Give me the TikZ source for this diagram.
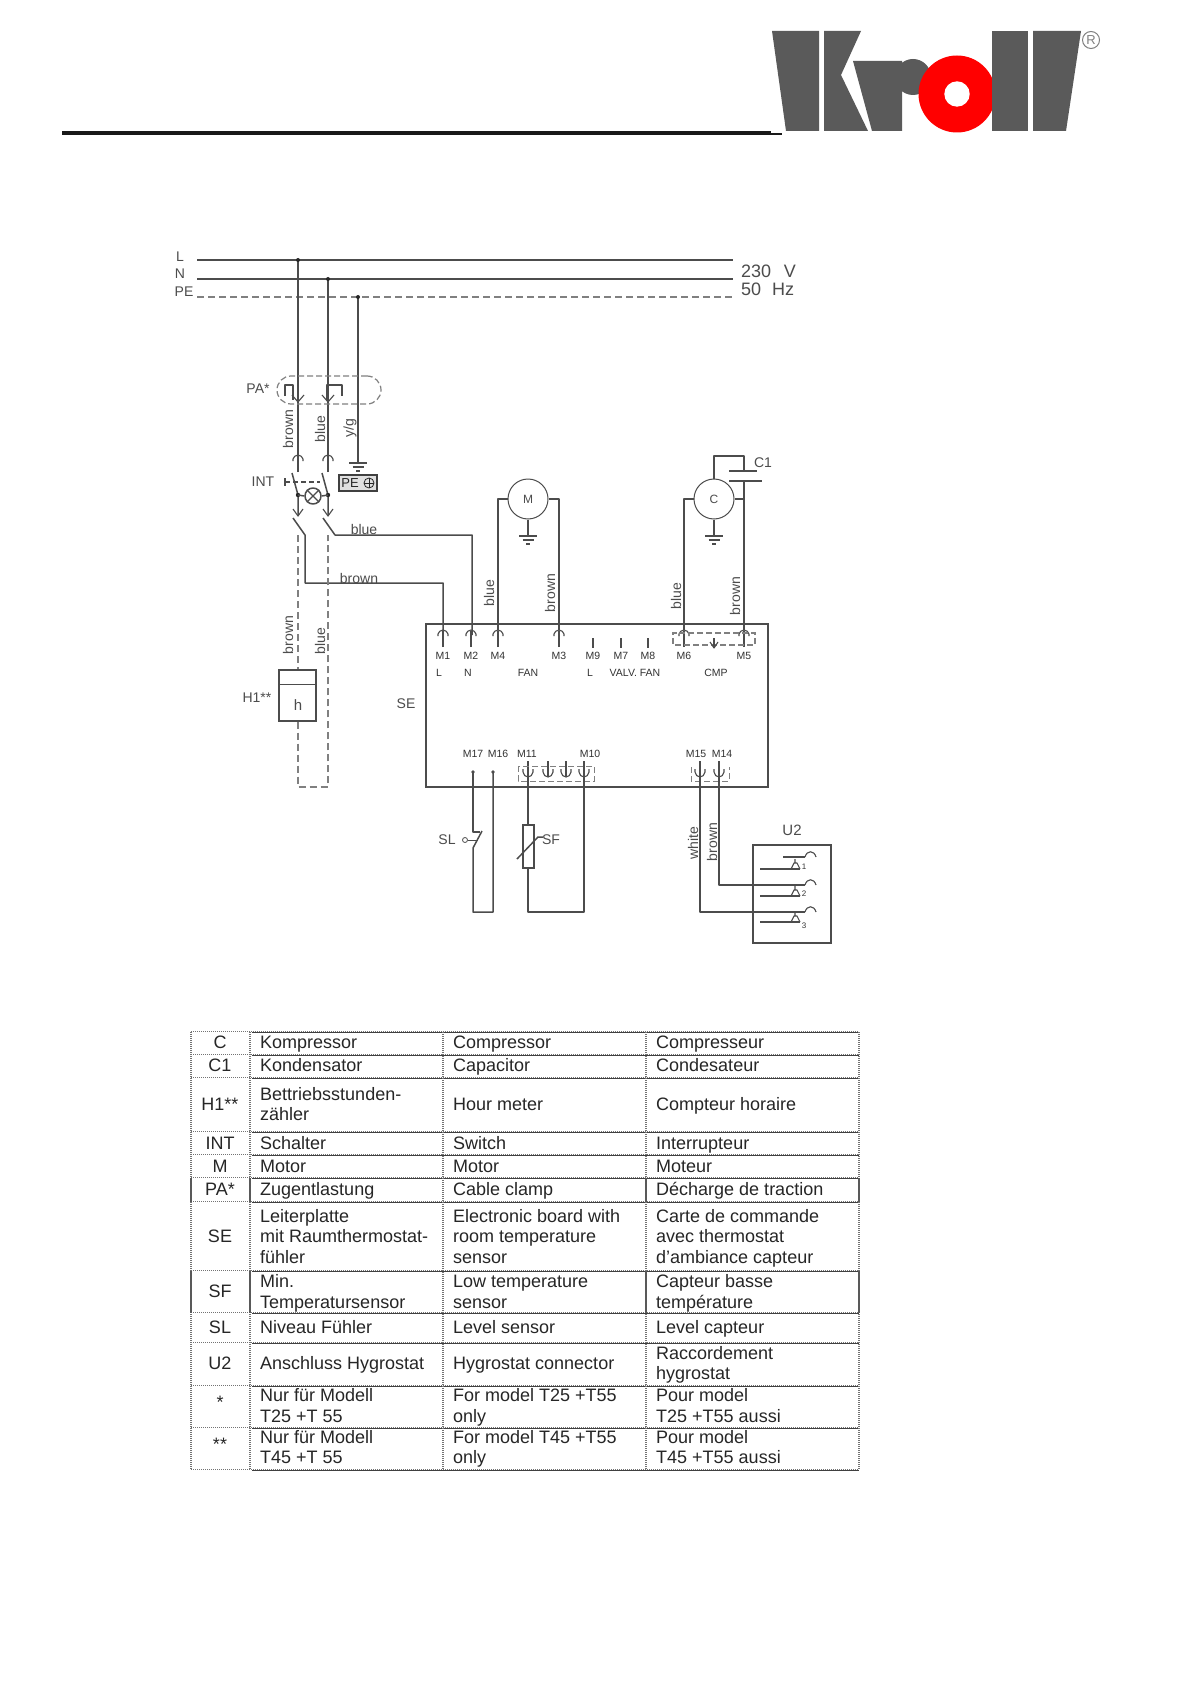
\documentclass[tikz,border=0pt]{standalone}
\usepackage{fontspec}
\setmainfont{Liberation Sans}
\usetikzlibrary{calc}
\definecolor{wirec}{gray}{0.3}
\definecolor{inkc}{gray}{0.3}
\definecolor{logoc}{HTML}{5A5A5A}
\definecolor{dashc}{gray}{0.5}
\tikzset{
 wire/.style={draw=wirec,line width=1.5pt,line join=round},
 thin wire/.style={draw=wirec,line width=1.1pt,line join=round},
 dwire/.style={draw=dashc,line width=1.6pt,dash pattern=on 7pt off 4pt},
 dbox/.style={draw=dashc,line width=1.2pt,dash pattern=on 6pt off 3pt},
 lab/.style={font=\fontsize{14}{14}\selectfont,text=inkc,inner sep=0pt},
 sm/.style={font=\fontsize{10.5}{10.5}\selectfont,text=black!80,inner sep=0pt},
 cell/.style={font=\fontsize{18}{20.5}\selectfont,text=black!85,inner sep=0pt,align=left,anchor=west},
 ccell/.style={font=\fontsize{18}{20.5}\selectfont,text=black!85,inner sep=0pt,align=center},
 tabv/.style={draw=black!55,line width=1.2pt,dash pattern=on 1pt off 1pt},
 tabvs/.style={draw=black!65,line width=1.2pt},
 tabd/.style={draw=black!55,line width=1.2pt,dash pattern=on 1pt off 1pt},
 tabh/.style={draw=black!75,line width=1pt},
 up term/.pic={\draw[wire] (0,10)--(0,-6);\draw[thin wire] (-5,-1)--(-5,-3) .. controls (-5,-5) and (-2,-7) .. (0,-7) .. controls (2,-7) and (5,-5) .. (5,-3)--(5,-1);},
 down term/.pic={\draw[wire] (0,-10)--(0,6);\draw[thin wire] (-5,-2)--(-5,1) .. controls (-5,4) and (-2,6) .. (0,6) .. controls (2,6) and (5,4) .. (5,1)--(5,-2);},
 gnd/.pic={\draw[wire] (-9,0)--(9,0);\draw[wire] (-5.5,4)--(5.5,4);\draw[wire] (-2,8)--(2,8);},
 hook/.pic={\draw[thin wire] (0,0) .. controls (2,-7) and (9,-7) .. (11,0);},
}
\newcommand{\trow}[6]{%
 \node[ccell] (k#1) at (220,#1+1.5) {\strut #3\strut};
 \node[cell] (d#1) at (260,#2+1.5) {\strut #4\strut};
 \node[cell] (e#1) at (453,#2+1.5) {\strut #5\strut};
 \node[cell] (f#1) at (656,#2+1.5) {\strut #6\strut};
}
\begin{document}
\begin{tikzpicture}[x=1pt,y=-1pt]
\useasboundingbox (0,0) rectangle (1191,1685);
\fill[white] (0,0) rectangle (1191,1685);
% header
\coordinate (ha) at (62,133); \coordinate (hb) at (771,133); \coordinate (hc) at (782,134);
\draw[black!90,line width=3.4pt] (ha)--(hb);
\draw[black!90,line width=1.2pt] (hb|-hc)--(hc);
% logo
\fill[logoc] (772,31)--(819,31)--(819,131)--(786,131)--cycle;
\fill[logoc] (824,31)--(861,31)--(841,75)--(868,131)--(824,131)--cycle;
\fill[logoc] (853,61)--(902,61)--(902,131)--(872,131)--cycle;
\fill[logoc] (913,77) circle[radius=18];
\fill[red] (957,94) circle[radius=38.5];
\fill[white] (957,94) circle[radius=12.7];
\fill[logoc] (992,31)--(1028,31)--(1028,131)--(992,131)--cycle;
\fill[logoc] (1033,31)--(1081,31)--(1066,131)--(1033,131)--cycle;
\node[draw=black!50,line width=1pt,circle,minimum size=17pt,inner sep=0pt,text=black!50,font=\fontsize{13}{13}\selectfont] (reg) at (1091,40) {R};
% bus
\coordinate (Ls) at (197,260); \coordinate (Le) at (733,260);
\coordinate (Ns) at (197,279); \coordinate (Ne) at (733,279);
\coordinate (Ps) at (197,297); \coordinate (Pe) at (733,297);
\draw[wire,line width=2pt] (Ls)--(Le);
\draw[wire,line width=1.5pt] (Ns)--(Ne);
\draw[dwire,line width=1.3pt] (Ps)--(Pe);
\node[lab] (tL) at (180,257) {L};
\node[lab] (tN) at (180,274) {N};
\node[lab] (tPE) at (184,292) {PE};
\node[lab,font=\fontsize{18}{18}\selectfont,anchor=west] (t230) at (741,271) {230\hspace{.7em}V};
\node[lab,font=\fontsize{18}{18}\selectfont,anchor=west] (t50) at (741,289) {50\hspace{.6em}Hz};
% drops
\coordinate (a1) at (298,260); \coordinate (a2) at (298,470);
\coordinate (b1) at (328,279); \coordinate (b2) at (328,470);
\coordinate (c1) at (358,297); \coordinate (c2) at (358,463);
\draw[wire] (a1)--(a2); \draw[wire] (b1)--(b2); \draw[wire] (c1)--(c2);
\fill[black!85] (a1) circle[radius=2] (b1) circle[radius=2] (c1) circle[radius=2];
\pic at (c2) {gnd};
% PA
\node[dbox,rounded corners=14pt,minimum width=104pt,minimum height=28pt,inner sep=0pt] (pa) at (329,390) {};
\node[lab] (tpa) at (258,389) {PA*};
\draw[wire] (285,396)--(285,385)--(293,385)--(293,400);
\draw[wire] (327,400)--(327,385)--(342,385)--(342,396);
\draw[thin wire] (292,395)--(298,402)--(304,395) (322,395)--(328,402)--(334,395);
% rotated labels
\node[lab,rotate=90] (r1) at (288,429) {brown};
\node[lab,rotate=90] (r2) at (320,429) {blue};
\node[lab,rotate=90] (r3) at (350,428) {y/g};
\pic at (298,462) {up term};
\pic at (328,462) {up term};
% switch
\node[lab] (tint) at (263,482) {INT};
\coordinate (s1t) at (292,473); \coordinate (s1b) at (298,495);
\coordinate (s2t) at (322,473); \coordinate (s2b) at (328,495);
\draw[wire] (s1t)--(s1b)--(298,516); \draw[wire] (s2t)--(s2b)--(328,516);
\draw[wire,dash pattern=on 5pt off 3pt] (285,482)--(320,482);
\draw[wire] (285,478)--(285,486);
\fill[black!85] (s1b) circle[radius=2.2] (s2b) circle[radius=2.2];
\node[wire,circle,minimum size=16pt,inner sep=0pt] (lamp) at (313,496) {};
\draw[thin wire] (lamp.45)--(lamp.225) (lamp.135)--(lamp.315);
\draw[wire] (s1b)--(lamp.west) (lamp.east)--(s2b);
\node[draw=black!75,line width=1.3pt,fill=black!12,minimum width=38pt,minimum height=16pt,inner sep=0pt] (pebox) at (358,483) {};
\node[lab,font=\fontsize{13}{13}\selectfont,text=black!85] (tpe2) at (350,483) {PE};
\node[draw=black!85,thick,circle,minimum size=10pt,inner sep=0pt] (peg) at (369,483) {};
\draw[black!85,thick] (peg.north)--(peg.south) (peg.west)--(peg.east);
% lower switch
\draw[thin wire] (293,509)--(298,516)--(303,509) (323,509)--(328,516)--(333,509);
\coordinate (br1) at (293,518); \coordinate (br2) at (305,535); \coordinate (br3) at (305,583); \coordinate (br4) at (443,583);
\coordinate (bl1) at (323,518); \coordinate (bl2) at (335,535); \coordinate (bl3) at (472,535);
\node[inner sep=0pt,minimum size=0pt] (M1w) at (443,635) {};
\node[inner sep=0pt,minimum size=0pt] (M2w) at (471,635) {};
\draw[wire] (br1)--(br2)--(br3)--(br4)--(M1w);
\draw[wire] (bl1)--(bl2)--(bl3)--(bl3|-M2w);
\node[lab] (tblue) at (364,529) {blue};
\node[lab] (tbrown) at (359,578) {brown};
% dashed H1
\node[draw=wirec,line width=1.4pt,minimum width=37pt,minimum height=51pt,inner sep=0pt] (h1) at (297.5,695.5) {};
\coordinate (h1l) at (279,684); \coordinate (h1r) at (316,684);
\draw[wire,line width=1pt] (h1l)--(h1r);
\node[lab,font=\fontsize{15}{15}\selectfont] (th) at (298,705) {h};
\node[lab] (th1) at (257,698) {H1**};
\coordinate (d1) at (298,535); \coordinate (d2) at (328,535);
\draw[dwire] (d1)--(h1.north-|d1);
\draw[dwire] (h1.south-|d1)--(298,787)--(328,787)--(d2);
\node[lab,rotate=90] (r4) at (288,635) {brown};
\node[lab,rotate=90] (r5) at (320,641) {blue};
\node[lab] (tse) at (406,704) {SE};
% SE
\node[draw=wirec,line width=2pt,minimum width=342pt,minimum height=163pt,inner sep=0pt] (se) at (597,705.5) {};
% terminals top
\foreach \n/\x in {M1/443,M2/471,M4/498,M3/559,M6/684,M5/744}{
 \pic at (\x,637) {up term};
 \node[sm] (t\n) at (\x,656) {\n};
}
\foreach \n/\x in {M9/593,M7/621,M8/648}{
 \coordinate (p\n) at (\x,638);
 \draw[wire,line width=2pt] (p\n)--++(0,10);
 \node[sm] (t\n) at (\x,656) {\n};
}
\node[sm] (s1) at (439,673) {L};
\node[sm] (s2) at (468,673) {N};
\node[sm] (s3) at (528,673) {FAN};
\node[sm] (s4) at (590,673) {L};
\node[sm] (s5) at (635,673) {VALV. FAN};
\node[sm] (s6) at (716,673) {CMP};
\draw[dbox] (677,633)--(673,633)--(673,645)--(755,645)--(755,633)--cycle;
\coordinate (cn) at (714,638);
\draw[wire] (cn)--++(0,10);
\draw[thin wire] (710,642)--(714,648)--(718,642);
% motors
\node[wire,circle,minimum size=40pt,inner sep=0pt,line width=1pt] (mot) at (528,499) {};
\node[lab,font=\fontsize{12}{12}\selectfont] (tM) at (528,499) {M};
\node[wire,circle,minimum size=40pt,inner sep=0pt,line width=1pt] (cmp) at (714,499) {};
\node[lab,font=\fontsize{12}{12}\selectfont] (tC) at (714,499) {C};
\draw[wire] (mot.west)--(498,499)--(498,630);
\draw[wire] (mot.east)--(559,499)--(559,630);
\draw[wire] (cmp.west)--(684,499)--(684,630);
\draw[wire] (cmp.east)--(744,499)--(744,630);
\coordinate (g1) at (528,536); \coordinate (g2) at (714,536);
\draw[wire] (mot.south)--(g1); \draw[wire] (cmp.south)--(g2);
\pic at (g1) {gnd}; \pic at (g2) {gnd};
\draw[wire] (cmp.north)--(714,456)--(744,456)--(744,471);
\draw[wire] (744,481)--(744,499);
\draw[wire] (729,471)--(757,471) (729,481)--(762,481);
\node[lab] (tC1) at (763,463) {C1};
\node[lab,rotate=90] (r6) at (489,593) {blue};
\node[lab,rotate=90] (r7) at (550,593) {brown};
\node[lab,rotate=90] (r8) at (676,596) {blue};
\node[lab,rotate=90] (r9) at (735,596) {brown};
% bottom labels
\foreach \n/\x in {M17/473,M16/498,M11/527,M10/590,M15/696,M14/722}{
 \node[sm] (t\n) at (\x,754) {\n};
}
\coordinate (w17) at (473,772); \coordinate (w16) at (493,772);
\fill[wirec] (w17) circle[radius=1.8] (w16) circle[radius=1.8];
\foreach \x in {528,548,566,584,700,719}{ \pic at (\x,771) {down term}; }
\draw[dbox,line width=1pt] (518,766) rectangle (594,781);
\draw[dbox,line width=1pt] (691,767)--(691,781)--(729,781)--(729,767);
% SL
\coordinate (sl1) at (473,832); \coordinate (sl2) at (473,848);
\coordinate (sl3) at (473,912); \coordinate (sl4) at (493,912);
\draw[wire] (w17)--(sl1)--(480,832);
\draw[wire] (482,831)--(sl2)--(sl3)--(sl4)--(w16);
\node[draw=wirec,circle,thick,minimum size=5pt,inner sep=0pt] (slc) at (465,840) {};
\draw[wire,line width=1pt] (slc.east)--(478,840);
\node[lab] (tSL) at (447,840) {SL};
% SF
\node[draw=wirec,line width=1.2pt,minimum width=11pt,minimum height=43pt,inner sep=0pt] (sf) at (528.5,846.5) {};
\coordinate (sf1) at (528,912); \coordinate (sf2) at (584,912);
\draw[wire] (528,775)--(528,825);
\draw[wire] (528,868)--(sf1)--(sf2)--(584,775);
\draw[wire] (517,859)--(538,837)--(543,837);
\node[lab] (tSF) at (551,840) {SF};
% U2
\node[draw=wirec,line width=1.6pt,minimum width=78pt,minimum height=98pt,inner sep=0pt] (u2) at (792,894) {};
\node[lab,font=\fontsize{15}{15}\selectfont] (tU2) at (792,830) {U2};
\coordinate (u1) at (805,885); \coordinate (u3) at (805,912); \coordinate (u0) at (805,857);
\draw[wire] (719,775)--(719,885)--(u1);
\draw[wire] (700,775)--(700,912)--(u3);
\draw[thin wire] (783,857)--(u0);
\pic at (u0) {hook}; \pic at (u1) {hook}; \pic at (u3) {hook};
\draw[thin wire] (760,869)--(800,869) (760,896)--(800,896) (760,922)--(800,922);
\foreach \y in {869,896,922}{
 \draw[thin wire] (791,\y)--(794,\y-6)--(797,\y-6)--(800,\y) (795,\y-10)--(795,\y-6);
}
\node[sm,font=\fontsize{8}{8}\selectfont] (n1) at (804,867) {1};
\node[sm,font=\fontsize{8}{8}\selectfont] (n2) at (804,894) {2};
\node[sm,font=\fontsize{8}{8}\selectfont] (n3) at (804,926) {3};
\node[lab,rotate=90] (r10) at (693,843) {white};
\node[lab,rotate=90] (r11) at (712,842) {brown};
% table
\foreach \y in {1032,1055,1078,1132,1155,1178,1202,1271,1313,1343,1386,1428,1470}{
 \draw[tabd] (191,\y-.5)--(859,\y-.5);
 \draw[tabh] (252,\y+.5)--(859,\y+.5);
}
\foreach \x in {191,250,443,646,859}{
 \draw[tabv] (\x,1032)--(\x,1470);
}
\foreach \x in {191,250,646,859}{
 \draw[tabvs] (\x,1178)--(\x,1202);
 \draw[tabvs] (\x,1271)--(\x,1313);
}
\trow{1043}{1043}{C}{Kompressor}{Compressor}{Compresseur}
\trow{1066}{1066}{C1}{Kondensator}{Capacitor}{Condesateur}
\trow{1105}{1105}{H1**}{Bettriebsstunden-\\zähler}{Hour meter}{Compteur horaire}
\trow{1144}{1144}{INT}{Schalter}{Switch}{Interrupteur}
\trow{1167}{1167}{M}{Motor}{Motor}{Moteur}
\trow{1190}{1190}{PA*}{Zugentlastung}{Cable clamp}{Décharge de traction}
\trow{1237}{1237}{SE}{Leiterplatte\\mit Raumthermostat-\\fühler}{Electronic board with\\room temperature\\sensor}{Carte de commande\\avec thermostat\\d’ambiance capteur}
\trow{1292}{1292.5}{SF}{Min.\\Temperatursensor}{Low temperature\\sensor}{Capteur basse\\température}
\trow{1328}{1328}{SL}{Niveau Fühler}{Level sensor}{Level capteur}
\trow{1364}{1364}{U2}{Anschluss Hygrostat}{Hygrostat connector}{Raccordement\\hygrostat}
\trow{1403}{1406.5}{*}{Nur für Modell\\T25 +T 55}{For model T25 +T55\\only}{Pour model\\T25 +T55 aussi}
\trow{1445}{1448}{**}{Nur für Modell\\T45 +T 55}{For model T45 +T55\\only}{Pour model\\T45 +T55 aussi}
\end{tikzpicture}
\end{document}
